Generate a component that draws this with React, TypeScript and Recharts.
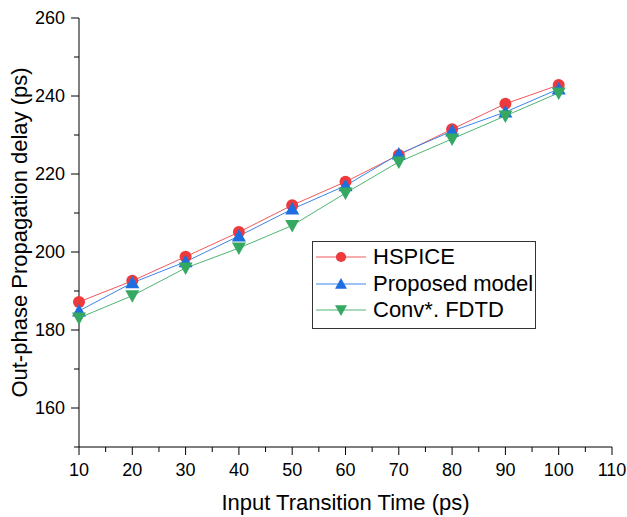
import { LineChart, Line, XAxis, YAxis, Legend } from 'recharts';

const TRANSITION = [10, 20, 30, 40, 50, 60, 70, 80, 90, 100];
const HSPICE = [187.2, 192.6, 198.8, 205.1, 212, 218, 224.9, 231.5, 238, 242.8];
const PROPOSED = [184.9, 192.1, 197.5, 204.1, 211, 217, 225.1, 231, 235.9, 241.8];
const CONV_FDTD = [183.1, 188.8, 195.9, 201, 206.8, 215.1, 223.1, 229, 234.9, 240.8];

const X_TICKS = [10, 15, 20, 25, 30, 35, 40, 45, 50, 55, 60, 65, 70, 75, 80, 85, 90, 95, 100, 105, 110];
const Y_TICKS = [150, 160, 170, 180, 190, 200, 210, 220, 230, 240, 250, 260];

const data = TRANSITION.map((t, i) => ({
  t,
  hspice: HSPICE[i],
  proposed: PROPOSED[i],
  conv: CONV_FDTD[i],
}));

const FONT = '"Liberation Sans", Arial, sans-serif';

const SERIES = [
  { key: 'hspice', name: 'HSPICE', line: '#f2585a', mark: '#ee3a3c', shape: 'circle' },
  { key: 'proposed', name: 'Proposed model', line: '#3d85ec', mark: '#1f6ee0', shape: 'up' },
  { key: 'conv', name: 'Conv*. FDTD', line: '#4fb574', mark: '#35a862', shape: 'down' },
];

function Marker({ cx, cy, shape, color, scale = 1 }: any) {
  if (cx == null || cy == null) return null;
  if (shape === 'circle') return <circle cx={cx} cy={cy} r={6 * scale} fill={color} />;
  const s = 7 * scale;
  const a = 5.5 * scale;
  const b = 7 * scale;
  if (shape === 'up')
    return <polygon points={`${cx - s},${cy + a} ${cx + s},${cy + a} ${cx},${cy - b}`} fill={color} />;
  return <polygon points={`${cx - s},${cy - a} ${cx + s},${cy - a} ${cx},${cy + b}`} fill={color} />;
}

function XTick({ x, y, payload }: any) {
  const major = payload.value % 10 === 0;
  return (
    <g>
      <line x1={x} y1={y} x2={x} y2={y + (major ? 8 : 5)} stroke="#000" />
      {major && (
        <text x={x} y={y + 29} textAnchor="middle" fontSize={18} fontFamily={FONT} fill="#000">
          {payload.value}
        </text>
      )}
    </g>
  );
}

function YTick({ x, y, payload }: any) {
  const major = payload.value % 20 === 0;
  return (
    <g>
      <line x1={x} y1={y} x2={x - (major ? 8 : 5)} y2={y} stroke="#000" />
      {major && (
        <text x={x - 14} y={y + 6} textAnchor="end" fontSize={18} fontFamily={FONT} fill="#000">
          {payload.value}
        </text>
      )}
    </g>
  );
}

function LegendBox() {
  return (
    <div
      style={{
        border: '1px solid #333',
        background: '#fff',
        width: 222,
        padding: '2px 0 4px 0',
        fontFamily: FONT,
        fontSize: 22,
        lineHeight: 1,
      }}
    >
      {SERIES.map((s) => (
        <div key={s.key} style={{ display: 'flex', alignItems: 'center', height: 26.5 }}>
          <svg width={58} height={20} style={{ marginLeft: 2, flex: 'none' }}>
            <line x1={1} y1={10} x2={51} y2={10} stroke={s.line} strokeWidth={1} />
            <Marker cx={26} cy={10} shape={s.shape} color={s.mark} scale={0.85} />
          </svg>
          <span style={{ color: '#000', whiteSpace: 'nowrap' }}>{s.name}</span>
        </div>
      ))}
    </div>
  );
}

export default function App() {
  return (
    <div style={{ position: 'absolute', left: 0, top: 0, background: '#fff' }}>
      <LineChart width={627} height={517} data={data} margin={{ top: 18, right: 15, bottom: 0, left: 0 }}>
        <XAxis
          dataKey="t"
          type="number"
          domain={[10, 110]}
          ticks={X_TICKS}
          interval={0}
          height={70}
          tickSize={0}
          tickMargin={0}
          tick={<XTick />}
          axisLine={{ stroke: '#000' }}
          label={{
            content: ({ viewBox }: any) => (
              <text
                x={viewBox.x + viewBox.width / 2}
                y={viewBox.y + viewBox.height - 7}
                textAnchor="middle"
                fontSize={22}
                fontFamily={FONT}
                fill="#000"
              >
                Input Transition Time (ps)
              </text>
            ),
          }}
        />
        <YAxis
          type="number"
          domain={[150, 260]}
          ticks={Y_TICKS}
          interval={0}
          width={79}
          tickSize={0}
          tickMargin={0}
          tick={<YTick />}
          axisLine={{ stroke: '#000' }}
          label={{
            content: ({ viewBox }: any) => {
              const cx = viewBox.x + 27;
              const cy = viewBox.y + viewBox.height / 2;
              return (
                <text
                  x={cx}
                  y={cy}
                  transform={`rotate(-90 ${cx} ${cy})`}
                  textAnchor="middle"
                  fontSize={22}
                  fontFamily={FONT}
                  fill="#000"
                >
                  Out-phase Propagation delay (ps)
                </text>
              );
            },
          }}
        />
        <Legend
          layout="vertical"
          align="center"
          verticalAlign="middle"
          content={<LegendBox />}
          wrapperStyle={{ left: 312, top: 241, width: 224 }}
        />
        {SERIES.map((s) => (
          <Line
            key={s.key}
            dataKey={s.key}
            name={s.name}
            stroke={s.line}
            strokeWidth={1}
            isAnimationActive={false}
            dot={(p: any) => <Marker key={p.index} cx={p.cx} cy={p.cy} shape={s.shape} color={s.mark} />}
            activeDot={false}
          />
        ))}
      </LineChart>
    </div>
  );
}
